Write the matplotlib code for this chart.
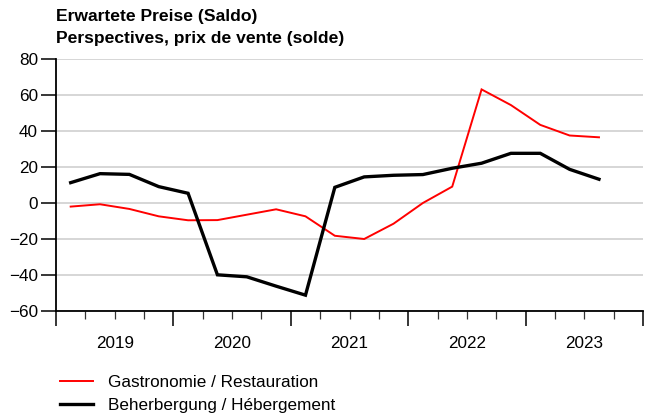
import matplotlib
matplotlib.use("Agg")
import matplotlib.pyplot as plt
from matplotlib.ticker import MultipleLocator, FixedLocator

plt.rcParams['font.family'] = ['Liberation Sans', 'DejaVu Sans']

years = ["2019", "2020", "2021", "2022", "2023"]
gastro = [-2.0, -0.7, -3.3, -7.4, -9.6, -9.5, -6.5, -3.5, -7.4,
          -18.2, -20.0, -11.5, 0.0, 9.1, 63.1, 54.4, 43.4, 37.5, 36.5]
beher = [11.3, 16.3, 15.9, 9.1, 5.4, -39.9, -41.0, -46.2, -51.2,
         8.7, 14.5, 15.4, 15.8, 19.3, 22.1, 27.6, 27.6, 18.7, 13.2]
labels = ["Gastronomie / Restauration", "Beherbergung / Hébergement"]
title_lines = ["Erwartete Preise (Saldo)", "Perspectives, prix de vente (solde)"]

W, H = 646, 417
FS = 12.3
fig = plt.figure(figsize=(W / 100, H / 100), dpi=100)
ax = fig.add_axes([56 / W, (H - 311) / H, (643 - 56) / W, (311 - 59) / H])

x = [i + 0.5 for i in range(len(gastro))]
ax.plot(x, gastro, color="#ff0000", lw=1.4, label=labels[0], solid_joinstyle="miter")
ax.plot(x, beher, color="black", lw=2.4, label=labels[1], solid_joinstyle="miter")

nq = 4 * len(years)
ax.set_xlim(0, nq)
ax.set_ylim(-60, 80)
ax.yaxis.set_major_locator(MultipleLocator(20))
ax.xaxis.set_major_locator(FixedLocator(range(0, nq + 1, 4)))
ax.xaxis.set_minor_locator(FixedLocator(range(0, nq + 1)))
ax.set_xticklabels([])
ax.tick_params(axis="x", which="major", length=11, width=1.1, color="black")
ax.tick_params(axis="x", which="minor", length=6, width=0.9, color="#333333")
ax.tick_params(axis="y", which="major", length=11, width=1.1, labelsize=FS, pad=2)

for i, yr in enumerate(years):
    ax.text(4 * i + 2, -0.13, yr, transform=ax.get_xaxis_transform(),
            ha="center", va="center", fontsize=FS)

ax.grid(axis="y", color="#cccccc", lw=1.1)
ax.set_axisbelow(True)
for s in ["top", "right"]:
    ax.spines[s].set_visible(False)
for s in ["left", "bottom"]:
    ax.spines[s].set_linewidth(1.3)

fig.text(56 / W, 1 - 16 / H, title_lines[0], fontsize=12.6, fontweight="bold",
         ha="left", va="center")
fig.text(56 / W, 1 - 38 / H, title_lines[1], fontsize=12.6, fontweight="bold",
         ha="left", va="center")

fig.legend(loc="upper left", bbox_to_anchor=(60 / W, 1 - 375 / H), frameon=False,
           fontsize=FS, handlelength=1.95, handletextpad=0.85, labelspacing=0.45,
           borderaxespad=0, borderpad=0)

fig.savefig("out.png", dpi=100)
